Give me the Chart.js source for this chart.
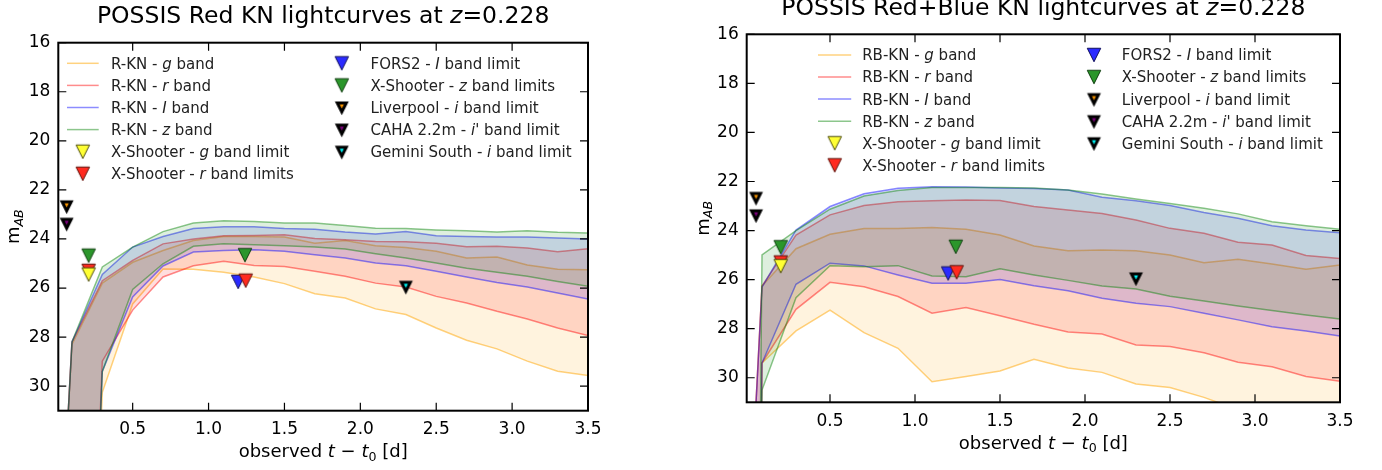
<!DOCTYPE html>
<html>
<head>
<meta charset="utf-8">
<script src="https://cdn.jsdelivr.net/npm/chart.js@4.4.0/dist/chart.umd.min.js"></script>
<style>
  html, body { margin: 0; padding: 0; background: #fff; }
  body { width: 1382px; height: 470px; position: relative; overflow: hidden; }
  canvas { position: absolute; top: 0; }
  #left { left: 0; }
  #right { left: 691px; }
</style>
</head>
<body>
<canvas id="left" width="691" height="470"></canvas>
<canvas id="right" width="691" height="470"></canvas>
<script>
// Time grid of the model lightcurves [d]
const T_GRID = [0.05, 0.1, 0.3, 0.5, 0.7, 0.9, 1.1, 1.3, 1.5, 1.7, 1.9, 2.1, 2.3, 2.5, 2.7, 2.9, 3.1, 3.3, 3.5];

// Axes
const X_RANGE = [0.01, 3.5];
const Y_RANGE = [16, 31];
const X_TICKS = [0.5, 1.0, 1.5, 2.0, 2.5, 3.0, 3.5];
const Y_TICKS = [16, 18, 20, 22, 24, 26, 28, 30];

// Red KN (R-KN): bright / faint edge of each band
const RKN_G_BRIGHT = [34, 28.3, 25.8, 24.95, 24.47, 24.06, 23.9, 23.9, 23.92, 24.17, 24.06, 24.28, 24.35, 24.5, 24.78, 24.74, 25.06, 25.23, 25.25];
const RKN_G_FAINT  = [60, 60, 30.25, 26.65, 25.22, 25.23, 25.36, 25.55, 25.82, 26.23, 26.41, 26.85, 27.08, 27.63, 28.13, 28.48, 28.98, 29.39, 29.57];
const RKN_R_BRIGHT = [34, 28.2, 25.7, 24.87, 24.2, 24.0, 23.87, 23.86, 23.83, 23.98, 24.03, 24.1, 24.11, 24.17, 24.32, 24.3, 24.37, 24.52, 24.4];
const RKN_R_FAINT  = [60, 60, 28.98, 26.9, 25.55, 25.09, 24.91, 25.08, 25.12, 25.32, 25.52, 25.8, 25.96, 26.34, 26.61, 26.95, 27.26, 27.63, 27.94];
const RKN_I_BRIGHT = [34, 28.2, 25.45, 24.33, 23.9, 23.57, 23.5, 23.5, 23.57, 23.6, 23.72, 23.8, 23.7, 23.87, 23.9, 23.92, 23.92, 23.96, 24.0];
const RKN_I_FAINT  = [60, 60, 29.4, 26.36, 25.1, 24.53, 24.47, 24.44, 24.5, 24.64, 24.78, 24.98, 25.09, 25.32, 25.55, 25.77, 25.96, 26.2, 26.45];
const RKN_Z_BRIGHT = [34, 28.2, 25.14, 24.33, 23.7, 23.35, 23.26, 23.29, 23.35, 23.35, 23.45, 23.56, 23.57, 23.63, 23.67, 23.72, 23.67, 23.73, 23.76];
const RKN_Z_FAINT  = [60, 60, 29.4, 26.06, 25.01, 24.3, 24.2, 24.24, 24.28, 24.33, 24.41, 24.6, 24.78, 24.98, 25.19, 25.36, 25.52, 25.73, 25.93];

// Red+Blue KN (RB-KN)
const RB_G_BRIGHT = [33, 26.26, 24.74, 24.15, 23.92, 23.92, 23.88, 23.95, 24.18, 24.63, 24.82, 24.79, 24.82, 25.0, 25.31, 25.17, 25.36, 25.58, 25.4];
const RB_G_FAINT  = [60, 29.4, 28.09, 27.24, 28.16, 28.8, 30.16, 29.95, 29.72, 29.25, 29.6, 29.78, 30.25, 30.4, 30.8, 31.3, 31.7, 32.0, 32.3];
const RB_R_BRIGHT = [33, 26.26, 24.18, 23.36, 22.98, 22.83, 22.78, 22.75, 22.77, 23.02, 23.16, 23.3, 23.57, 23.91, 24.11, 24.48, 24.59, 25.02, 25.14];
const RB_R_FAINT  = [60, 29.4, 27.21, 26.11, 26.29, 26.69, 27.37, 27.14, 27.47, 27.82, 28.13, 28.22, 28.66, 28.73, 28.98, 29.37, 29.55, 29.95, 30.14];
const RB_I_BRIGHT = [33, 26.3, 23.98, 23.02, 22.5, 22.28, 22.21, 22.22, 22.27, 22.29, 22.35, 22.64, 22.78, 22.98, 23.26, 23.5, 23.8, 23.98, 24.09];
const RB_I_FAINT  = [60, 29.4, 26.19, 25.33, 25.44, 25.81, 26.15, 26.15, 25.99, 26.25, 26.45, 26.76, 26.96, 27.1, 27.37, 27.64, 27.92, 28.09, 28.3];
const RB_Z_BRIGHT = [60, 24.99, 24.0, 23.13, 22.59, 22.37, 22.24, 22.24, 22.24, 22.26, 22.35, 22.51, 22.71, 22.9, 23.09, 23.32, 23.64, 23.8, 23.95];
const RB_Z_FAINT  = [60, 30.5, 26.74, 25.43, 25.47, 25.43, 25.85, 25.88, 25.56, 25.81, 26.03, 26.26, 26.38, 26.68, 26.87, 27.07, 27.26, 27.44, 27.6];

// Observed upper limits (t [d], m_AB)
const XSH_G_T = [0.21];        const XSH_G_M = [25.45];
const XSH_R_T = [0.21, 1.245]; const XSH_R_M = [25.3, 25.7];
const FORS2_T = [1.195];       const FORS2_M = [25.75];
const XSH_Z_T = [0.21, 1.24];  const XSH_Z_M = [24.68, 24.66];
const LIV_T   = [0.065];       const LIV_M   = [22.67];
const CAHA_T  = [0.065];       const CAHA_M  = [23.38];
const GEM_T   = [2.3];         const GEM_M   = [25.95];

const FONT = "'DejaVu Sans', sans-serif";
const TEXT = '#222';

const BAND_STYLE = {
  g: { line: 'rgba(255,165,0,0.5)', fill: 'rgba(255,165,0,0.13)' },
  r: { line: 'rgba(255,0,0,0.45)',  fill: 'rgba(255,0,0,0.13)' },
  I: { line: 'rgba(0,0,255,0.45)',  fill: 'rgba(0,0,255,0.13)' },
  z: { line: 'rgba(0,128,0,0.45)',  fill: 'rgba(0,128,0,0.13)' }
};

// Down-pointing triangle marker (width == height, like matplotlib 'v')
const makeTriangle = (fill, edge, size, lw) => {
  const pad = Math.ceil(lw * 2) + 2;
  const n = Math.ceil(size + 2 * pad);
  const c = document.createElement('canvas');
  c.width = n; c.height = n;
  const g = c.getContext('2d');
  const h = n / 2, r = size / 2;
  g.beginPath();
  g.moveTo(h - r, h - r);
  g.lineTo(h + r, h - r);
  g.lineTo(h, h + r);
  g.closePath();
  g.fillStyle = fill;
  g.fill();
  g.lineWidth = lw;
  g.strokeStyle = edge;
  g.lineJoin = 'miter';
  g.stroke();
  return c;
};

const LIMITS = [
  { key: 'xg',  label: 'X-Shooter - *g* band limit',   t: XSH_G_T, m: XSH_G_M, icon: makeTriangle('#ffff33', '#4a4a08', 13.5, 1) },
  { key: 'xr',  label: 'X-Shooter - *r* band limits',  t: XSH_R_T, m: XSH_R_M, icon: makeTriangle('#ff2a1f', '#5c1008', 13.5, 1) },
  { key: 'fi',  label: 'FORS2 - *I* band limit',       t: FORS2_T, m: FORS2_M, icon: makeTriangle('#2a2aff', '#10105c', 13.5, 1) },
  { key: 'xz',  label: 'X-Shooter - *z* band limits',  t: XSH_Z_T, m: XSH_Z_M, icon: makeTriangle('#2b962b', '#0f3f0f', 13.5, 1) },
  { key: 'li',  label: 'Liverpool - *i* band limit',   t: LIV_T,   m: LIV_M,   icon: makeTriangle('#ff9900', '#000', 9, 3) },
  { key: 'ci',  label: "CAHA 2.2m - *i'* band limit",  t: CAHA_T,  m: CAHA_M,  icon: makeTriangle('#800080', '#000', 9, 3) },
  { key: 'gi',  label: 'Gemini South - *i* band limit', t: GEM_T,  m: GEM_M,   icon: makeTriangle('#00ffff', '#000', 9, 3) }
];

const PANELS = [
  {
    canvas: 'left',
    prefix: 'R-KN',
    title: 'POSSIS Red KN lightcurves at *z*=0.228',
    bright: { g: RKN_G_BRIGHT, r: RKN_R_BRIGHT, I: RKN_I_BRIGHT, z: RKN_Z_BRIGHT },
    faint:  { g: RKN_G_FAINT,  r: RKN_R_FAINT,  I: RKN_I_FAINT,  z: RKN_Z_FAINT },
    area: { left: 58.3, right: 588, top: 42.7, bottom: 410.7 },
    titleY: 23.3, xTitleY: 457, yTitleX: 19,
    legend: { lineX: [8.7, 40.4], iconX: 24.5, textX: 52.7, col2IconX: 283.5, col2TextX: 312.2, row0: 20.6, step: 22.1 }
  },
  {
    canvas: 'right',
    prefix: 'RB-KN',
    title: 'POSSIS Red+Blue KN lightcurves at *z*=0.228',
    bright: { g: RB_G_BRIGHT, r: RB_R_BRIGHT, I: RB_I_BRIGHT, z: RB_Z_BRIGHT },
    faint:  { g: RB_G_FAINT,  r: RB_R_FAINT,  I: RB_I_FAINT,  z: RB_Z_FAINT },
    area: { left: 55.7, right: 649, top: 34.3, bottom: 402.3 },
    titleY: 15, xTitleY: 448.5, yTitleX: 17.5,
    legend: { lineX: [71.3, 104.5], iconX: 88, textX: 115.5, col2IconX: 347.3, col2TextX: 375.1, row0: 20.7, step: 22.06 }
  }
];

// Text helpers: '*x*' marks italic pieces, sub marks subscripts
const parseRich = (str) => str.split('*')
  .map((s, i) => ({ t: s, i: i % 2 === 1 }))
  .filter(s => s.t.length > 0);

const drawSegments = (ctx, segs, x, y, size, align) => {
  const fontFor = s => `${s.i ? 'italic ' : ''}${s.sub ? size * 0.7 : size}px ${FONT}`;
  let total = 0;
  const widths = segs.map(s => {
    ctx.font = fontFor(s);
    const w = ctx.measureText(s.t).width;
    total += w;
    return w;
  });
  let cx = align === 'center' ? x - total / 2 : x;
  ctx.textAlign = 'left';
  ctx.textBaseline = 'alphabetic';
  segs.forEach((s, k) => {
    ctx.font = fontFor(s);
    ctx.fillText(s.t, cx, y + (s.sub ? size * 0.2 : 0));
    cx += widths[k];
  });
};

const makeDecor = (panel) => ({
  id: 'decor',
  afterDraw(chart) {
    const ctx = chart.ctx;
    const { left, right, top, bottom } = chart.chartArea;
    const xs = chart.scales.x, ys = chart.scales.y;
    ctx.save();

    // inward ticks on all four sides
    ctx.strokeStyle = '#000';
    ctx.lineWidth = 1.2;
    ctx.beginPath();
    X_TICKS.forEach(v => {
      const px = xs.getPixelForValue(v);
      ctx.moveTo(px, bottom); ctx.lineTo(px, bottom - 8);
      ctx.moveTo(px, top); ctx.lineTo(px, top + 8);
    });
    Y_TICKS.forEach(v => {
      const py = ys.getPixelForValue(v);
      ctx.moveTo(left, py); ctx.lineTo(left + 8, py);
      ctx.moveTo(right, py); ctx.lineTo(right - 8, py);
    });
    ctx.stroke();

    // frame
    ctx.lineWidth = 2;
    ctx.strokeRect(left, top, right - left, bottom - top);

    // titles
    ctx.fillStyle = '#000';
    const cx = (left + right) / 2;
    drawSegments(ctx, parseRich(panel.title), cx, panel.titleY, 23.5, 'center');
    drawSegments(ctx, [
      { t: 'observed ' }, { t: 't', i: true }, { t: ' − ' }, { t: 't', i: true },
      { t: '0', sub: true }, { t: ' [d]' }
    ], cx, panel.xTitleY, 18, 'center');
    ctx.save();
    ctx.translate(panel.yTitleX, (top + bottom) / 2);
    ctx.rotate(-Math.PI / 2);
    drawSegments(ctx, [{ t: 'm' }, { t: 'AB', i: true, sub: true }], 0, 0, 18, 'center');
    ctx.restore();

    // legend, two columns, no frame
    const L = panel.legend;
    ctx.fillStyle = TEXT;
    const rowY = k => top + L.row0 + k * L.step;
    ['g', 'r', 'I', 'z'].forEach((b, k) => {
      const y = rowY(k);
      ctx.strokeStyle = BAND_STYLE[b].line;
      ctx.lineWidth = 1.5;
      ctx.beginPath();
      ctx.moveTo(left + L.lineX[0], y);
      ctx.lineTo(left + L.lineX[1], y);
      ctx.stroke();
      drawSegments(ctx, parseRich(`${panel.prefix} - *${b}* band`), left + L.textX, y + 5.4, 15, 'left');
    });
    const col1 = LIMITS.slice(0, 2), col2 = LIMITS.slice(2);
    col1.forEach((lim, k) => {
      const y = rowY(k + 4);
      ctx.drawImage(lim.icon, left + L.iconX - lim.icon.width / 2, y - lim.icon.height / 2);
      drawSegments(ctx, parseRich(lim.label), left + L.textX, y + 5.4, 15, 'left');
    });
    col2.forEach((lim, k) => {
      const y = rowY(k);
      ctx.drawImage(lim.icon, left + L.col2IconX - lim.icon.width / 2, y - lim.icon.height / 2);
      drawSegments(ctx, parseRich(lim.label), left + L.col2TextX, y + 5.4, 15, 'left');
    });
    ctx.restore();
  }
});

const toPoints = (ts, ms) => ts.map((t, i) => ({ x: t, y: ms[i] }));

const buildDatasets = (panel) => {
  const sets = [];
  const bandOrder = { g: 4, r: 3, I: 2, z: 1 };
  ['g', 'r', 'I', 'z'].forEach(b => {
    const style = BAND_STYLE[b];
    sets.push({
      label: `${panel.prefix} ${b} bright`,
      data: toPoints(T_GRID, panel.bright[b]),
      borderColor: style.line,
      backgroundColor: style.fill,
      borderWidth: 1.5,
      pointRadius: 0,
      fill: '+1',
      order: bandOrder[b]
    });
    sets.push({
      label: `${panel.prefix} ${b} faint`,
      data: toPoints(T_GRID, panel.faint[b]),
      borderColor: style.line,
      borderWidth: 1.5,
      pointRadius: 0,
      fill: false,
      order: bandOrder[b]
    });
  });
  LIMITS.forEach(lim => {
    sets.push({
      label: lim.key,
      data: toPoints(lim.t, lim.m),
      showLine: false,
      pointStyle: lim.icon,
      pointRadius: 7,
      order: 0
    });
  });
  return sets;
};

const createChart = (panel) => {
  const canvas = document.getElementById(panel.canvas);
  const W = canvas.width, H = canvas.height;
  const a = panel.area;
  return new Chart(canvas, {
    type: 'line',
    data: { datasets: buildDatasets(panel) },
    options: {
      responsive: false,
      animation: false,
      devicePixelRatio: 1,
      layout: { padding: { left: 0, top: a.top, right: W - a.right, bottom: 0 } },
      plugins: { legend: { display: false }, tooltip: { enabled: false } },
      elements: { line: { tension: 0 } },
      scales: {
        x: {
          type: 'linear',
          min: X_RANGE[0],
          max: X_RANGE[1],
          grid: { display: false, drawTicks: false },
          border: { display: false },
          afterBuildTicks: s => { s.ticks = X_TICKS.map(v => ({ value: v })); },
          afterFit: s => { s.height = H - a.bottom; },
          ticks: {
            color: '#000',
            padding: 9,
            maxRotation: 0,
            font: { family: FONT, size: 17 },
            callback: v => Number(v).toFixed(1)
          }
        },
        y: {
          type: 'linear',
          reverse: true,
          min: Y_RANGE[0],
          max: Y_RANGE[1],
          grid: { display: false, drawTicks: false },
          border: { display: false },
          afterBuildTicks: s => { s.ticks = Y_TICKS.map(v => ({ value: v })); },
          afterFit: s => { s.width = a.left; },
          ticks: {
            color: '#000',
            padding: 8,
            font: { family: FONT, size: 17 },
            callback: v => String(v)
          }
        }
      }
    },
    plugins: [makeDecor(panel)]
  });
};

document.addEventListener('DOMContentLoaded', () => {
  PANELS.forEach(p => {
    try {
      createChart(p);
    } catch (error) {
      console.error('Chart creation failed:', error);
    }
  });
});
</script>
</body>
</html>
